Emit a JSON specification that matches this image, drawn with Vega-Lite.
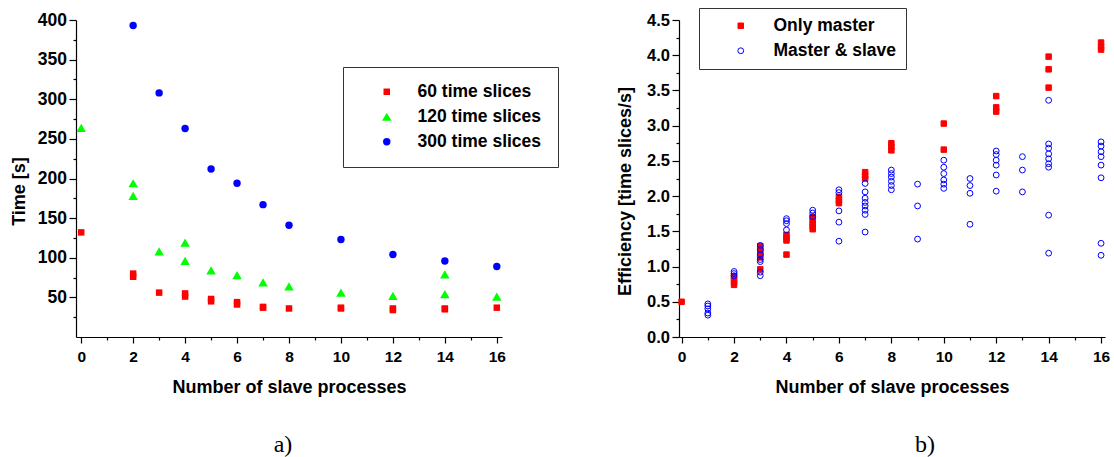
{
  "$schema": "https://vega.github.io/schema/vega-lite/v6.json",
  "background": "white",
  "padding": {"left": 10, "top": 7, "right": 4, "bottom": 4},
  "bounds": "flush",
  "spacing": 177,
  "config": {
    "view": {"stroke": null},
    "font": "Liberation Sans",
    "axis": {
      "grid": false,
      "domainColor": "black",
      "domainWidth": 1.2,
      "tickColor": "black",
      "tickWidth": 1.2,
      "labelColor": "black",
      "titleColor": "black",
      "labelFont": "Liberation Sans",
      "labelFontWeight": "bold",
      "titleFont": "Liberation Sans",
      "titleFontWeight": "bold",
      "titleFontSize": 18
    }
  },
  "resolve": {"scale": {"fill": "independent", "shape": "independent", "size": "independent", "color": "independent", "x": "independent", "y": "independent"}},
  "hconcat": [
    {
      "width": 426,
      "height": 317,
      "title": {"text": "a)", "orient": "bottom", "anchor": "middle", "offset": 37, "dx": -6, "font": "Liberation Serif", "fontSize": 24, "fontWeight": "normal", "color": "black"},
      "data": {"values": [
        {"n": 0, "time": 132, "series": "60 time slices"},
        {"n": 2, "time": 80, "series": "60 time slices"},
        {"n": 2, "time": 76, "series": "60 time slices"},
        {"n": 3, "time": 56, "series": "60 time slices"},
        {"n": 4, "time": 55, "series": "60 time slices"},
        {"n": 4, "time": 51, "series": "60 time slices"},
        {"n": 5, "time": 48, "series": "60 time slices"},
        {"n": 5, "time": 45, "series": "60 time slices"},
        {"n": 6, "time": 44, "series": "60 time slices"},
        {"n": 6, "time": 41, "series": "60 time slices"},
        {"n": 7, "time": 38, "series": "60 time slices"},
        {"n": 7, "time": 37, "series": "60 time slices"},
        {"n": 8, "time": 36, "series": "60 time slices"},
        {"n": 10, "time": 37, "series": "60 time slices"},
        {"n": 10, "time": 36, "series": "60 time slices"},
        {"n": 12, "time": 36, "series": "60 time slices"},
        {"n": 12, "time": 34, "series": "60 time slices"},
        {"n": 14, "time": 36, "series": "60 time slices"},
        {"n": 14, "time": 35, "series": "60 time slices"},
        {"n": 16, "time": 37, "series": "60 time slices"},
        {"n": 0, "time": 264, "series": "120 time slices"},
        {"n": 2, "time": 194, "series": "120 time slices"},
        {"n": 2, "time": 178, "series": "120 time slices"},
        {"n": 3, "time": 108, "series": "120 time slices"},
        {"n": 4, "time": 119, "series": "120 time slices"},
        {"n": 4, "time": 96, "series": "120 time slices"},
        {"n": 5, "time": 84, "series": "120 time slices"},
        {"n": 6, "time": 78, "series": "120 time slices"},
        {"n": 7, "time": 69, "series": "120 time slices"},
        {"n": 8, "time": 64, "series": "120 time slices"},
        {"n": 10, "time": 56, "series": "120 time slices"},
        {"n": 12, "time": 52, "series": "120 time slices"},
        {"n": 14, "time": 79, "series": "120 time slices"},
        {"n": 14, "time": 54, "series": "120 time slices"},
        {"n": 16, "time": 51, "series": "120 time slices"},
        {"n": 2, "time": 393, "series": "300 time slices"},
        {"n": 3, "time": 308, "series": "300 time slices"},
        {"n": 4, "time": 263, "series": "300 time slices"},
        {"n": 5, "time": 212, "series": "300 time slices"},
        {"n": 6, "time": 194, "series": "300 time slices"},
        {"n": 7, "time": 167, "series": "300 time slices"},
        {"n": 8, "time": 141, "series": "300 time slices"},
        {"n": 10, "time": 123, "series": "300 time slices"},
        {"n": 12, "time": 104, "series": "300 time slices"},
        {"n": 14, "time": 96, "series": "300 time slices"},
        {"n": 16, "time": 89, "series": "300 time slices"}
      ]},
      "mark": {"type": "point", "filled": true, "opacity": 1, "strokeWidth": 0},
      "encoding": {
        "x": {
          "field": "n", "type": "quantitative",
          "scale": {"domain": [-0.2, 16.2], "nice": false, "zero": false},
          "axis": {
            "values": [0, 1, 2, 3, 4, 5, 6, 7, 8, 9, 10, 11, 12, 13, 14, 15, 16],
            "labelExpr": "datum.value % 2 ? '' : datum.label",
            "tickSize": {"condition": {"test": "datum.value % 2", "value": 3}, "value": 6},
            "labelFontSize": 15.5,
            "labelBaseline": "middle",
            "labelPadding": 13,
            "labelFlush": false,
            "labelOverlap": false,
            "title": "Number of slave processes",
            "titleY": 50,
            "titleBaseline": "middle"
          }
        },
        "y": {
          "field": "time", "type": "quantitative",
          "scale": {"domain": [0, 400], "nice": false},
          "axis": {
            "values": [25, 50, 75, 100, 125, 150, 175, 200, 225, 250, 275, 300, 325, 350, 375, 400],
            "labelExpr": "datum.value % 50 ? '' : datum.label",
            "tickSize": {"condition": {"test": "datum.value % 50", "value": 3}, "value": 7},
            "labelFontSize": 17.5,
            "labelPadding": 2.5,
            "labelFlush": false,
            "labelOverlap": false,
            "title": "Time [s]",
            "titleX": -57,
            "titleY": 171,
            "titleBaseline": "middle"
          }
        },
        "color": {
          "field": "series", "type": "nominal",
          "scale": {"domain": ["60 time slices", "120 time slices", "300 time slices"], "range": ["#ff0000", "#00ff00", "#0000ff"]},
          "legend": {
            "orient": "none", "legendX": 267, "legendY": 47, "title": null,
            "strokeColor": "#333333", "padding": 16, "symbolOffset": 19, "labelOffset": 22,
            "labelFont": "Liberation Sans", "labelFontWeight": "bold", "labelFontSize": 17.5, "labelColor": "black",
            "rowPadding": 6, "symbolSize": 60, "labelLimit": 400, "symbolStrokeWidth": 0
          }
        },
        "shape": {
          "field": "series", "type": "nominal",
          "scale": {"domain": ["60 time slices", "120 time slices", "300 time slices"], "range": ["square", "triangle-up", "circle"]}
        },
        "size": {
          "field": "series", "type": "nominal",
          "scale": {"type": "ordinal", "domain": ["60 time slices", "120 time slices", "300 time slices"], "range": [42, 90, 55]},
          "legend": null
        }
      }
    },
    {
      "width": 426,
      "height": 317,
      "title": {"text": "b)", "orient": "bottom", "anchor": "middle", "offset": 37, "dx": 33, "font": "Liberation Serif", "fontSize": 24, "fontWeight": "normal", "color": "black"},
      "data": {"values": [
        {"n": 0, "eff": 0.50, "mode": "Only master"},
        {"n": 2, "eff": 0.86, "mode": "Only master"},
        {"n": 2, "eff": 0.82, "mode": "Only master"},
        {"n": 2, "eff": 0.78, "mode": "Only master"},
        {"n": 2, "eff": 0.74, "mode": "Only master"},
        {"n": 3, "eff": 1.29, "mode": "Only master"},
        {"n": 3, "eff": 1.25, "mode": "Only master"},
        {"n": 3, "eff": 1.21, "mode": "Only master"},
        {"n": 3, "eff": 1.17, "mode": "Only master"},
        {"n": 3, "eff": 1.13, "mode": "Only master"},
        {"n": 3, "eff": 0.96, "mode": "Only master"},
        {"n": 4, "eff": 1.45, "mode": "Only master"},
        {"n": 4, "eff": 1.41, "mode": "Only master"},
        {"n": 4, "eff": 1.37, "mode": "Only master"},
        {"n": 4, "eff": 1.17, "mode": "Only master"},
        {"n": 5, "eff": 1.70, "mode": "Only master"},
        {"n": 5, "eff": 1.65, "mode": "Only master"},
        {"n": 5, "eff": 1.61, "mode": "Only master"},
        {"n": 5, "eff": 1.57, "mode": "Only master"},
        {"n": 5, "eff": 1.53, "mode": "Only master"},
        {"n": 6, "eff": 1.99, "mode": "Only master"},
        {"n": 6, "eff": 1.94, "mode": "Only master"},
        {"n": 6, "eff": 1.90, "mode": "Only master"},
        {"n": 7, "eff": 2.34, "mode": "Only master"},
        {"n": 7, "eff": 2.29, "mode": "Only master"},
        {"n": 7, "eff": 2.25, "mode": "Only master"},
        {"n": 8, "eff": 2.75, "mode": "Only master"},
        {"n": 8, "eff": 2.70, "mode": "Only master"},
        {"n": 8, "eff": 2.65, "mode": "Only master"},
        {"n": 10, "eff": 3.03, "mode": "Only master"},
        {"n": 10, "eff": 2.66, "mode": "Only master"},
        {"n": 12, "eff": 3.42, "mode": "Only master"},
        {"n": 12, "eff": 3.26, "mode": "Only master"},
        {"n": 12, "eff": 3.20, "mode": "Only master"},
        {"n": 14, "eff": 3.98, "mode": "Only master"},
        {"n": 14, "eff": 3.80, "mode": "Only master"},
        {"n": 14, "eff": 3.54, "mode": "Only master"},
        {"n": 16, "eff": 4.18, "mode": "Only master"},
        {"n": 16, "eff": 4.12, "mode": "Only master"},
        {"n": 16, "eff": 4.08, "mode": "Only master"},
        {"n": 1, "eff": 0.47, "mode": "Master & slave"},
        {"n": 1, "eff": 0.44, "mode": "Master & slave"},
        {"n": 1, "eff": 0.40, "mode": "Master & slave"},
        {"n": 1, "eff": 0.34, "mode": "Master & slave"},
        {"n": 1, "eff": 0.31, "mode": "Master & slave"},
        {"n": 2, "eff": 0.93, "mode": "Master & slave"},
        {"n": 2, "eff": 0.90, "mode": "Master & slave"},
        {"n": 2, "eff": 0.87, "mode": "Master & slave"},
        {"n": 3, "eff": 1.30, "mode": "Master & slave"},
        {"n": 3, "eff": 1.24, "mode": "Master & slave"},
        {"n": 3, "eff": 1.17, "mode": "Master & slave"},
        {"n": 3, "eff": 1.10, "mode": "Master & slave"},
        {"n": 3, "eff": 1.07, "mode": "Master & slave"},
        {"n": 3, "eff": 0.92, "mode": "Master & slave"},
        {"n": 3, "eff": 0.87, "mode": "Master & slave"},
        {"n": 4, "eff": 1.68, "mode": "Master & slave"},
        {"n": 4, "eff": 1.65, "mode": "Master & slave"},
        {"n": 4, "eff": 1.61, "mode": "Master & slave"},
        {"n": 4, "eff": 1.52, "mode": "Master & slave"},
        {"n": 5, "eff": 1.80, "mode": "Master & slave"},
        {"n": 5, "eff": 1.76, "mode": "Master & slave"},
        {"n": 5, "eff": 1.71, "mode": "Master & slave"},
        {"n": 6, "eff": 2.09, "mode": "Master & slave"},
        {"n": 6, "eff": 2.05, "mode": "Master & slave"},
        {"n": 6, "eff": 1.79, "mode": "Master & slave"},
        {"n": 6, "eff": 1.63, "mode": "Master & slave"},
        {"n": 6, "eff": 1.36, "mode": "Master & slave"},
        {"n": 7, "eff": 2.18, "mode": "Master & slave"},
        {"n": 7, "eff": 2.06, "mode": "Master & slave"},
        {"n": 7, "eff": 1.97, "mode": "Master & slave"},
        {"n": 7, "eff": 1.91, "mode": "Master & slave"},
        {"n": 7, "eff": 1.86, "mode": "Master & slave"},
        {"n": 7, "eff": 1.80, "mode": "Master & slave"},
        {"n": 7, "eff": 1.74, "mode": "Master & slave"},
        {"n": 7, "eff": 1.49, "mode": "Master & slave"},
        {"n": 8, "eff": 2.37, "mode": "Master & slave"},
        {"n": 8, "eff": 2.32, "mode": "Master & slave"},
        {"n": 8, "eff": 2.27, "mode": "Master & slave"},
        {"n": 8, "eff": 2.21, "mode": "Master & slave"},
        {"n": 8, "eff": 2.15, "mode": "Master & slave"},
        {"n": 8, "eff": 2.09, "mode": "Master & slave"},
        {"n": 9, "eff": 2.17, "mode": "Master & slave"},
        {"n": 9, "eff": 1.86, "mode": "Master & slave"},
        {"n": 9, "eff": 1.39, "mode": "Master & slave"},
        {"n": 10, "eff": 2.51, "mode": "Master & slave"},
        {"n": 10, "eff": 2.41, "mode": "Master & slave"},
        {"n": 10, "eff": 2.32, "mode": "Master & slave"},
        {"n": 10, "eff": 2.23, "mode": "Master & slave"},
        {"n": 10, "eff": 2.17, "mode": "Master & slave"},
        {"n": 10, "eff": 2.11, "mode": "Master & slave"},
        {"n": 11, "eff": 2.25, "mode": "Master & slave"},
        {"n": 11, "eff": 2.15, "mode": "Master & slave"},
        {"n": 11, "eff": 2.04, "mode": "Master & slave"},
        {"n": 11, "eff": 1.60, "mode": "Master & slave"},
        {"n": 12, "eff": 2.64, "mode": "Master & slave"},
        {"n": 12, "eff": 2.59, "mode": "Master & slave"},
        {"n": 12, "eff": 2.51, "mode": "Master & slave"},
        {"n": 12, "eff": 2.44, "mode": "Master & slave"},
        {"n": 12, "eff": 2.30, "mode": "Master & slave"},
        {"n": 12, "eff": 2.07, "mode": "Master & slave"},
        {"n": 13, "eff": 2.56, "mode": "Master & slave"},
        {"n": 13, "eff": 2.37, "mode": "Master & slave"},
        {"n": 13, "eff": 2.06, "mode": "Master & slave"},
        {"n": 14, "eff": 3.36, "mode": "Master & slave"},
        {"n": 14, "eff": 2.74, "mode": "Master & slave"},
        {"n": 14, "eff": 2.68, "mode": "Master & slave"},
        {"n": 14, "eff": 2.60, "mode": "Master & slave"},
        {"n": 14, "eff": 2.53, "mode": "Master & slave"},
        {"n": 14, "eff": 2.46, "mode": "Master & slave"},
        {"n": 14, "eff": 2.41, "mode": "Master & slave"},
        {"n": 14, "eff": 1.73, "mode": "Master & slave"},
        {"n": 14, "eff": 1.19, "mode": "Master & slave"},
        {"n": 16, "eff": 2.77, "mode": "Master & slave"},
        {"n": 16, "eff": 2.71, "mode": "Master & slave"},
        {"n": 16, "eff": 2.63, "mode": "Master & slave"},
        {"n": 16, "eff": 2.56, "mode": "Master & slave"},
        {"n": 16, "eff": 2.44, "mode": "Master & slave"},
        {"n": 16, "eff": 2.26, "mode": "Master & slave"},
        {"n": 16, "eff": 1.33, "mode": "Master & slave"},
        {"n": 16, "eff": 1.16, "mode": "Master & slave"}
      ]},
      "mark": {"type": "point", "filled": false, "opacity": 1, "strokeWidth": 1},
      "encoding": {
        "x": {
          "field": "n", "type": "quantitative",
          "scale": {"domain": [-0.1, 16.15], "nice": false, "zero": false},
          "axis": {
            "values": [0, 1, 2, 3, 4, 5, 6, 7, 8, 9, 10, 11, 12, 13, 14, 15, 16],
            "labelExpr": "datum.value % 2 ? '' : datum.label",
            "tickSize": {"condition": {"test": "datum.value % 2", "value": 3}, "value": 6},
            "labelFontSize": 15.5,
            "labelBaseline": "middle",
            "labelPadding": 13,
            "labelFlush": false,
            "labelOverlap": false,
            "title": "Number of slave processes",
            "titleY": 50,
            "titleBaseline": "middle"
          }
        },
        "y": {
          "field": "eff", "type": "quantitative",
          "scale": {"domain": [0, 4.5], "nice": false},
          "axis": {
            "values": [0, 0.25, 0.5, 0.75, 1, 1.25, 1.5, 1.75, 2, 2.25, 2.5, 2.75, 3, 3.25, 3.5, 3.75, 4, 4.25, 4.5],
            "labelExpr": "abs(datum.value * 2 - round(datum.value * 2)) > 0.01 ? '' : format(datum.value, '.1f')",
            "tickSize": {"condition": {"test": "abs(datum.value * 2 - round(datum.value * 2)) > 0.01", "value": 3}, "value": 7},
            "labelFontSize": 16.5,
            "labelPadding": 2.5,
            "labelFlush": false,
            "labelOverlap": false,
            "title": "Efficiency [time slices/s]",
            "titleX": -54,
            "titleY": 171,
            "titleBaseline": "middle"
          }
        },
        "color": {
          "field": "mode", "type": "nominal",
          "scale": {"domain": ["Only master", "Master & slave"], "range": ["#ff0000", "#0000ff"]},
          "legend": {
            "orient": "none", "legendX": 20, "legendY": -12, "title": null,
            "strokeColor": "#333333", "padding": 9, "symbolOffset": 24, "labelOffset": 24,
            "labelFont": "Liberation Sans", "labelFontWeight": "bold", "labelFontSize": 17.5, "labelColor": "black",
            "rowPadding": 6, "symbolSize": 40, "labelLimit": 400, "symbolStrokeWidth": 1
          }
        },
        "fill": {
          "field": "mode", "type": "nominal",
          "scale": {"domain": ["Only master", "Master & slave"], "range": ["#ff0000", "transparent"]}
        },
        "shape": {
          "field": "mode", "type": "nominal",
          "scale": {"domain": ["Only master", "Master & slave"], "range": ["square", "circle"]}
        },
        "size": {
          "field": "mode", "type": "nominal",
          "scale": {"type": "ordinal", "domain": ["Only master", "Master & slave"], "range": [30, 34]},
          "legend": null
        }
      }
    }
  ]
}
